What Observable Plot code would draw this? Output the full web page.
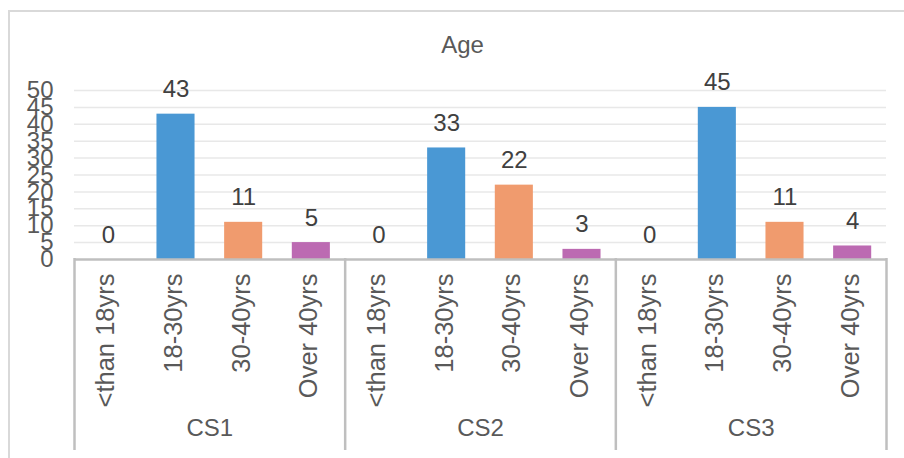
<!DOCTYPE html>
<html><head><meta charset="utf-8">
<script src="https://cdn.jsdelivr.net/npm/d3@7"></script>
<script src="https://cdn.jsdelivr.net/npm/@observablehq/plot@0.6"></script>
<style>
body{margin:0;background:#fff;}
#wrap{position:relative;width:904px;height:458px;overflow:hidden;background:#fff;}
#wrap svg{position:absolute;left:0;top:0;}
#frame{position:absolute;left:8px;top:10px;width:940px;height:500px;border-left:2px solid #d9d9d9;border-top:2px solid #d9d9d9;pointer-events:none;}
</style></head><body><div id="wrap"><div id="frame"></div></div>
<script>
const title = "Age";
const groups = ["CS1", "CS2", "CS3"];
const categories = ["<than 18yrs", "18-30yrs", "30-40yrs", "Over 40yrs"];
const cs1 = [0, 43, 11, 5];
const cs2 = [0, 33, 22, 3];
const cs3 = [0, 45, 11, 4];
const categoryColors = ["#4A98D4", "#4A98D4", "#F09B6E", "#BC6AB2"];
const yTicks = [0, 5, 10, 15, 20, 25, 30, 35, 40, 45, 50];

const seriesByGroup = [cs1, cs2, cs3];
const rows = [];
groups.forEach((g, gi) => categories.forEach((c, ci) =>
  rows.push({group: g, category: c, value: seriesByGroup[gi][ci], i: gi * categories.length + ci})));
const groupRows = groups.map((g, gi) => ({group: g, start: gi * categories.length, end: (gi + 1) * categories.length}));
const bounds = [0, ...groupRows.map(d => d.end)];

const chart = Plot.plot({
  width: 904, height: 458,
  marginTop: 90, marginBottom: 199, marginLeft: 74, marginRight: 18,
  style: {fontFamily: "'Liberation Sans', Arial, sans-serif", fontSize: "24px", color: "#595959", background: "transparent", overflow: "visible"},
  x: {domain: [0, groups.length * categories.length], axis: null},
  y: {domain: [0, 50], ticks: yTicks, tickSize: 0, tickPadding: 21, label: null},
  color: {domain: categories, range: categoryColors},
  marks: [
    Plot.ruleY(yTicks.filter(d => d > 0), {stroke: "#e8e8e8", strokeWidth: 1.5}),
    Plot.rectY(rows, {x1: "i", x2: d => d.i + 1, y1: 0, y2: "value", fill: "category", insetLeft: 14.8, insetRight: 14.8}),
    Plot.ruleY([0], {stroke: "#bfbfbf", strokeWidth: 2.5}),
    Plot.ruleX(bounds, {x: d => d, stroke: "#bfbfbf", strokeWidth: 2.5, insetTop: 168, insetBottom: -191}),
    Plot.text(rows, {x: d => d.i + 0.5, y: "value", text: d => String(d.value), lineAnchor: "bottom", dy: -17, fill: "#404040", fontSize: 24}),
    Plot.text(rows, {x: d => d.i + 0.5, frameAnchor: "bottom", text: "category", rotate: -90, textAnchor: "end", dx: 6, dy: 14, fill: "#595959", fontSize: 25.5}),
    Plot.text(groupRows, {x: d => (d.start + d.end) / 2, frameAnchor: "bottom", text: "group", dy: 176, fill: "#595959", fontSize: 24}),
    Plot.text([title], {frameAnchor: "top", dx: -18, dy: -55, fill: "#595959", fontSize: 24})
  ]
});
document.getElementById("wrap").insertBefore(chart, document.getElementById("frame"));
</script>
</body></html>
